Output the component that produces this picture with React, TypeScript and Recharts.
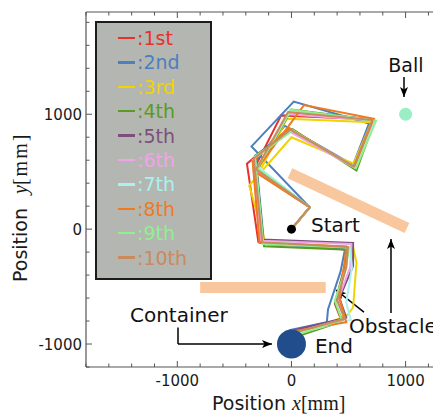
import React from 'react';
import { ScatterChart, Scatter, XAxis, YAxis, ReferenceLine, ReferenceArea, Legend } from 'recharts';

const seriesNames = ['1st', '2nd', '3rd', '4th', '5th', '6th', '7th', '8th', '9th', '10th'];
const seriesColors = ['#e8302d', '#4d7ebf', '#f0d400', '#5a9c22', '#7c4f7c', '#f0a4e8', '#aaf2f0', '#f07a1e', '#90f090', '#c98a5c'];

const run1: [number, number][] = [[0, 0], [160, 190], [-320, 540], [-90, 990], [715, 955], [545, 545], [-30, 870], [-390, 570], [-290, -110], [490, -180], [460, -350], [380, -650], [440, -800], [20, -880]];
const run2: [number, number][] = [[0, 0], [160, 190], [-350, 720], [20, 1110], [680, 920], [540, 560], [-60, 900], [-310, 600], [-240, -130], [470, -170], [430, -370], [320, -700], [310, -810], [-20, -880]];
const run3: [number, number][] = [[0, 0], [160, 190], [-280, 500], [-40, 960], [700, 930], [545, 570], [0, 800], [-370, 380], [-230, -110], [540, -160], [570, -290], [540, -680], [490, -750], [60, -920]];
const run4: [number, number][] = [[0, 0], [160, 190], [-290, 530], [0, 1040], [730, 950], [570, 510], [10, 870], [-320, 640], [-240, -150], [500, -180], [470, -330], [380, -640], [450, -800], [60, -930]];
const run5: [number, number][] = [[0, 0], [160, 190], [-300, 520], [-20, 1020], [720, 955], [555, 545], [-10, 860], [-330, 620], [-260, -90], [540, -120], [540, -320], [420, -600], [480, -770], [20, -880]];
const run6: [number, number][] = [[0, 0], [160, 190], [-310, 510], [-30, 1000], [725, 945], [550, 535], [-20, 850], [-340, 600], [-270, -100], [525, -130], [515, -330], [410, -610], [470, -780], [30, -900]];
const run7: [number, number][] = [[0, 0], [160, 190], [-290, 540], [-10, 1030], [735, 950], [560, 540], [0, 860], [-320, 630], [-250, -110], [510, -160], [530, -330], [480, -640], [520, -790], [40, -910]];
const run8: [number, number][] = [[0, 0], [160, 190], [-320, 500], [110, 1080], [720, 960], [550, 540], [-20, 880], [-340, 590], [-280, -120], [480, -150], [470, -250], [420, -600], [480, -810], [10, -890]];
const run9: [number, number][] = [[0, 0], [160, 190], [-300, 530], [-10, 1040], [740, 940], [565, 530], [10, 860], [-320, 620], [-250, -130], [500, -160], [480, -340], [380, -620], [440, -790], [50, -920]];
const run10: [number, number][] = [[0, 0], [160, 190], [-310, 520], [-30, 1020], [710, 950], [545, 545], [-10, 865], [-330, 615], [-255, -115], [495, -155], [480, -330], [400, -620], [465, -780], [30, -900]];
const runs = [run1, run2, run3, run4, run5, run6, run7, run8, run9, run10];

const xTicks = [-1800, -1600, -1400, -1200, -1000, -800, -600, -400, -200, 0, 200, 400, 600, 800, 1000, 1200];
const yTicks = [-1200, -1000, -800, -600, -400, -200, 0, 200, 400, 600, 800, 1000, 1200, 1400, 1600, 1800];
const majorTicks = [-1000, 0, 1000];

const obstacleSlanted = [{ x: -13, y: 487 }, { x: 1012, y: 10 }];
const obstacleBar = { x1: -800, x2: 300, y1: -556, y2: -460 };
const ballPoint = [{ x: 1000, y: 1000 }];
const startPoint = [{ x: 0, y: 0 }];
const containerPoint = [{ x: 0, y: -1000 }];
const labels = [
  { x: 1003, y: 1367, text: 'Ball', anchor: 'middle', size: 19 },
  { x: 171, y: -25, text: 'Start', anchor: 'start', size: 20 },
  { x: 206, y: -1078, text: 'End', anchor: 'start', size: 20 },
  { x: -1415, y: -809, text: 'Container', anchor: 'start', size: 20 },
  { x: 504, y: -904, text: 'Obstacle', anchor: 'start', size: 20 },
];
const arrows = [
  [{ x: 986, y: 1324 }, { x: 986, y: 1150 }],
  [{ x: 635, y: -722 }, { x: 390, y: -530 }],
  [{ x: 872, y: -731 }, { x: 872, y: -86 }],
  [{ x: -994, y: -1000 }, { x: -171, y: -1000 }],
];
const containerStem = [{ x: -994, y: -857 }, { x: -994, y: -1000 }];

const FONT = 'DejaVu Sans, Verdana, sans-serif';
const AXIS = '#555';

const XTickBottom = (props: any) => {
  const { x, y, payload } = props;
  const major = majorTicks.includes(payload.value);
  return (
    <g>
      <line x1={x} x2={x} y1={y} y2={y - (major ? 6 : 3.5)} stroke={AXIS} strokeWidth={1} />
      {major && (
        <text x={x} y={y + 19} textAnchor="middle" fontSize={15} fontFamily={FONT} fill="#1a1a1a">
          {payload.value}
        </text>
      )}
    </g>
  );
};

const XTickTop = (props: any) => {
  const { x, y, payload } = props;
  const major = majorTicks.includes(payload.value);
  return <line x1={x} x2={x} y1={y} y2={y + (major ? 6 : 3.5)} stroke={AXIS} strokeWidth={1} />;
};

const YTick = (props: any) => {
  const { x, y, payload } = props;
  const major = majorTicks.includes(payload.value);
  return (
    <g>
      <line x1={x} x2={x + (major ? 6 : 3.5)} y1={y} y2={y} stroke={AXIS} strokeWidth={1} />
      {major && (
        <text x={x - 4} y={y + 5.5} textAnchor="end" fontSize={15} fontFamily={FONT} fill="#1a1a1a">
          {payload.value}
        </text>
      )}
    </g>
  );
};

const XTitle = (props: any) => {
  const vb = props.viewBox || { x: 86, y: 367 };
  return (
    <text x={vb.x + 126} y={vb.y + 43} fill="#1a1a1a">
      <tspan fontFamily={FONT} fontSize={19}>Position </tspan>
      <tspan fontFamily="Liberation Serif, serif" fontStyle="italic" fontSize={20}>x</tspan>
      <tspan fontFamily="Liberation Serif, serif" fontSize={20}>[mm]</tspan>
    </text>
  );
};

const YTitle = (props: any) => {
  const vb = props.viewBox || { x: 0, y: 12 };
  const cx = vb.x + 27;
  const cy = vb.y + 270;
  return (
    <text x={cx} y={cy} transform={`rotate(-90, ${cx}, ${cy})`} fill="#1a1a1a">
      <tspan fontFamily={FONT} fontSize={19}>Position </tspan>
      <tspan dx={8} fontFamily="Liberation Serif, serif" fontStyle="italic" fontSize={20}>y</tspan>
      <tspan fontFamily="Liberation Serif, serif" fontSize={20} letterSpacing={2}>[mm]</tspan>
    </text>
  );
};

const LegendBox = () => (
  <div
    style={{
      position: 'relative',
      width: 117,
      height: 259,
      boxSizing: 'border-box',
      background: '#b4b6b1',
      border: '2px solid #1c1c1c',
      fontFamily: FONT,
    }}
  >
    {seriesNames.map((n, i) => (
      <div
        key={n}
        style={{
          position: 'absolute',
          left: 21,
          top: 3 + i * 24.4,
          height: 24,
          display: 'flex',
          alignItems: 'center',
          color: seriesColors[i],
          fontSize: 19,
          whiteSpace: 'nowrap',
        }}
      >
        <span style={{ display: 'inline-block', width: 17, height: 2.5, background: seriesColors[i], marginRight: 2 }} />
        <span style={{ lineHeight: '24px' }}>:{n}</span>
      </div>
    ))}
  </div>
);

const none = () => <g />;

export default function App() {
  return (
    <div style={{ position: 'absolute', left: 0, top: 0, width: 433, height: 416, overflow: 'hidden', background: '#fff' }}>
      <svg width={0} height={0} style={{ position: 'absolute' }}>
        <defs>
          <marker id="arrowHead" viewBox="0 0 10 8" refX={10} refY={4} markerWidth={10} markerHeight={8} markerUnits="userSpaceOnUse" orient="auto">
            <path d="M0,0 L10,4 L0,8 L2.5,4 Z" fill="#000" />
          </marker>
        </defs>
      </svg>
      <ScatterChart width={433} height={416} margin={{ top: 0, right: 0, bottom: 0, left: 0 }}>
        <XAxis
          xAxisId="top"
          orientation="top"
          type="number"
          dataKey="x"
          domain={[-1800, 1240]}
          allowDataOverflow
          ticks={xTicks}
          interval={0}
          tickSize={0}
          tickMargin={0}
          tick={<XTickTop />}
          height={12}
          axisLine={{ stroke: AXIS, strokeWidth: 1.2 }}
        />
        <XAxis
          type="number"
          dataKey="x"
          domain={[-1800, 1240]}
          allowDataOverflow
          ticks={xTicks}
          interval={0}
          tickSize={0}
          tickMargin={0}
          tick={<XTickBottom />}
          height={49}
          axisLine={{ stroke: AXIS, strokeWidth: 1.2 }}
          label={{ value: 'Position x[mm]', content: XTitle }}
        />
        <YAxis
          type="number"
          dataKey="y"
          domain={[-1200, 1890]}
          allowDataOverflow
          ticks={yTicks}
          interval={0}
          tickSize={0}
          tickMargin={0}
          tick={<YTick />}
          width={86}
          axisLine={{ stroke: AXIS, strokeWidth: 1.2 }}
          label={{ value: 'Position y[mm]', content: YTitle }}
        />
        <ReferenceArea x1={obstacleBar.x1} x2={obstacleBar.x2} y1={obstacleBar.y1} y2={obstacleBar.y2} fill="#f9c79d" fillOpacity={1} stroke="none" />
        <ReferenceLine segment={obstacleSlanted} stroke="#f9c79d" strokeWidth={11} />
        {runs.map((r, i) => (
          <Scatter
            key={seriesNames[i]}
            name={seriesNames[i]}
            data={r.map(([x, y]) => ({ x, y }))}
            fill={seriesColors[i]}
            line={{ stroke: seriesColors[i], strokeWidth: 2 }}
            lineJointType="linear"
            shape={none}
            isAnimationActive={false}
          />
        ))}
        <Scatter data={ballPoint} legendType="none" isAnimationActive={false} shape={(p: any) => <circle cx={p.cx} cy={p.cy} r={6.5} fill="#9aeec4" />} />
        <Scatter data={startPoint} legendType="none" isAnimationActive={false} shape={(p: any) => <circle cx={p.cx} cy={p.cy} r={4.5} fill="#000" />} />
        <Scatter data={containerPoint} legendType="none" isAnimationActive={false} shape={(p: any) => <circle cx={p.cx} cy={p.cy} r={14.5} fill="#214d8c" />} />
        <ReferenceLine segment={containerStem} stroke="#000" strokeWidth={1.5} />
        {arrows.map((a, i) => (
          <ReferenceLine key={i} segment={a} stroke="#000" strokeWidth={1.5} markerEnd="url(#arrowHead)" />
        ))}
        <Scatter
          data={labels}
          legendType="none"
          isAnimationActive={false}
          shape={(p: any) => (
            <text x={p.cx} y={p.cy} textAnchor={p.payload.anchor} fontSize={p.payload.size} fontFamily={FONT} fill="#111">
              {p.payload.text}
            </text>
          )}
        />
        <Legend
          layout="vertical"
          align="center"
          verticalAlign="middle"
          content={<LegendBox />}
          wrapperStyle={{ left: 95, top: 21, width: 117, height: 259 }}
        />
      </ScatterChart>
    </div>
  );
}
